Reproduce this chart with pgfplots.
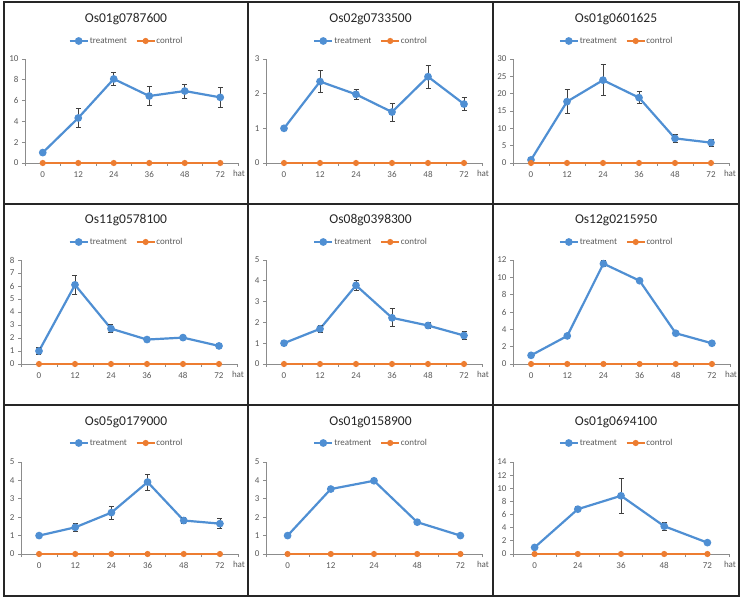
\documentclass[border=0pt]{standalone}
\usepackage{pgfplots}
\pgfplotsset{compat=1.18}
\usepackage{pgfplotstable}
\usepackage{fontspec}
\setmainfont{Carlito}
\definecolor{tblue}{HTML}{4F8FD3}
\definecolor{corange}{HTML}{ED7D31}
\definecolor{axgray}{HTML}{8C8C8C}
\definecolor{lblgray}{HTML}{595959}
\definecolor{errgray}{HTML}{404040}

\pgfplotsset{
  legend image code/.code={\draw[mark repeat=2,mark phase=2,#1] plot coordinates {(0pt,0pt) (9pt,0pt) (18pt,0pt)};},
  panel/.style={
    scale only axis,
    height=104pt,
    axis x line*=bottom, axis y line*=left,
    axis line style={draw=axgray, line width=0.9pt},
    ymin=0,
    xmin=-0.5, xmax=5.5,
    xtick={0,...,5},
    minor xtick={-0.5,0.5,...,5.5},
    major x tick style={draw=none},
    minor x tick style={draw=axgray, line width=0.8pt},
    ytick style={draw=axgray, line width=0.8pt},
    tick align=outside,
    major tick length=3pt, minor tick length=3pt,
    tick label style={font=\fontsize{9}{10}\selectfont, text=lblgray},
    xticklabel style={yshift=-2pt},
    /pgf/number format/assume math mode=true,
    clip=false,
    title style={font=\fontsize{13.5}{15}\selectfont, anchor=center, text=black!85},
    xlabel=hat,
    xlabel style={at={(axis description cs:1,0)}, anchor=center, yshift=-10.5pt, xshift=1pt, font=\fontsize{9}{10}\selectfont, text=lblgray},
    legend columns=2,
    legend style={draw=none, fill=none, font=\fontsize{9}{10}\selectfont, text=lblgray,
      /tikz/every even column/.append style={column sep=8pt}, anchor=center, inner sep=0pt,
      nodes={inner sep=1pt}},
  },
  five/.style={xmin=-0.5, xmax=4.5, xtick={0,...,4}, minor xtick={-0.5,0.5,...,4.5}},
  rowthree/.style={height=92pt},
  cellc/.style 2 args={title style={at={(axis description cs:#1,1)}, yshift=34pt},
    legend style={at={(axis description cs:#1,1)}, yshift=#2}},
  treat/.style={tblue, line width=2.2pt, mark=*, mark size=2.7pt, mark options={solid}},
  ctrl/.style={corange, line width=1.5pt, mark=*, mark size=2.3pt, mark options={solid}},
  ebars/.style={error bars/.cd, y dir=both, y explicit,
    error bar style={errgray, line width=0.8pt},
    error mark options={errgray, mark size=2.5pt, line width=0.8pt, rotate=90}},
}

\pgfplotstableread{
x y e
0 1.00 0.07
1 4.33 0.95
2 8.08 0.60
3 6.44 0.90
4 6.92 0.68
5 6.31 0.96
}\dataA
\pgfplotstableread{
x y e
0 1.00 0.06
1 2.35 0.31
2 1.98 0.14
3 1.47 0.26
4 2.49 0.33
5 1.70 0.18
}\dataB
\pgfplotstableread{
x y e
0 0.90 0.10
1 17.7 3.40
2 23.9 4.40
3 18.85 1.80
4 7.10 1.15
5 5.87 1.00
}\dataC
\pgfplotstableread{
x y e
0 1.00 0.28
1 6.09 0.75
2 2.72 0.29
3 1.88 0.05
4 2.03 0.08
5 1.39 0.10
}\dataD
\pgfplotstableread{
x y e
0 1.00 0.08
1 1.69 0.16
2 3.78 0.22
3 2.22 0.43
4 1.85 0.14
5 1.37 0.19
}\dataE
\pgfplotstableread{
x y e
0 1.00 0.05
1 3.24 0.10
2 11.58 0.35
3 9.61 0.10
4 3.55 0.22
5 2.39 0.10
}\dataF
\pgfplotstableread{
x y e
0 1.00 0.05
1 1.45 0.20
2 2.25 0.36
3 3.91 0.44
4 1.82 0.17
5 1.65 0.26
}\dataG
\pgfplotstableread{
x y e
0 1.00 0.00
1 3.53 0.00
2 3.98 0.00
3 1.73 0.00
4 1.00 0.00
}\dataH
\pgfplotstableread{
x y e
0 1.00 0.05
1 6.82 0.40
2 8.86 2.70
3 4.23 0.58
4 1.73 0.28
}\dataI

\begin{document}
\begin{tikzpicture}
\useasboundingbox (0,0) rectangle (743pt,599pt);
% panel borders
\draw[black!85, line width=1.1pt] (4pt,597pt) rectangle (739pt,3pt);
\draw[black!85, line width=1.1pt] (248pt,597pt) -- (248pt,3pt);
\draw[black!85, line width=1.1pt] (493pt,597pt) -- (493pt,3pt);
\draw[black!85, line width=1.1pt] (4pt,395pt) -- (739pt,395pt);
\draw[black!85, line width=1.1pt] (4pt,194pt) -- (739pt,194pt);

% Row 1
\begin{axis}[panel, at={(25pt,436pt)}, anchor=south west, width=213pt,
  title={Os01g0787600}, cellc={0.474}{18pt},
  ymax=10, ytick={0,2,...,10}, xticklabels={0,12,24,36,48,72}]
\addplot[treat, ebars] table[x=x,y=y,y error=e]{\dataA};
\addplot[ctrl] coordinates {(0,0)(1,0)(2,0)(3,0)(4,0)(5,0)};
\legend{treatment,control}
\end{axis}

\begin{axis}[panel, at={(266pt,436pt)}, anchor=south west, width=216pt,
  title={Os02g0733500}, cellc={0.484}{18pt},
  ymax=3, ytick={0,1,2,3}, xticklabels={0,12,24,36,48,72}]
\addplot[treat, ebars] table[x=x,y=y,y error=e]{\dataB};
\addplot[ctrl] coordinates {(0,0)(1,0)(2,0)(3,0)(4,0)(5,0)};
\legend{treatment,control}
\end{axis}

\begin{axis}[panel, at={(513pt,436pt)}, anchor=south west, width=216pt,
  title={Os01g0601625}, cellc={0.477}{18pt},
  ymax=30, ytick={0,5,...,30}, xticklabels={0,12,24,36,48,72}]
\addplot[treat, ebars] table[x=x,y=y,y error=e]{\dataC};
\addplot[ctrl] coordinates {(0,0)(1,0)(2,0)(3,0)(4,0)(5,0)};
\legend{treatment,control}
\end{axis}

% Row 2
\begin{axis}[panel, at={(21pt,235pt)}, anchor=south west, width=216pt,
  title={Os11g0578100}, cellc={0.486}{18pt},
  ymax=8, ytick={0,1,...,8}, xticklabels={0,12,24,36,48,72}]
\addplot[treat, ebars] table[x=x,y=y,y error=e]{\dataD};
\addplot[ctrl] coordinates {(0,0)(1,0)(2,0)(3,0)(4,0)(5,0)};
\legend{treatment,control}
\end{axis}

\begin{axis}[panel, at={(266pt,235pt)}, anchor=south west, width=216pt,
  title={Os08g0398300}, cellc={0.484}{18pt},
  ymax=5, ytick={0,1,...,5}, xticklabels={0,12,24,36,48,72}]
\addplot[treat, ebars] table[x=x,y=y,y error=e]{\dataE};
\addplot[ctrl] coordinates {(0,0)(1,0)(2,0)(3,0)(4,0)(5,0)};
\legend{treatment,control}
\end{axis}

\begin{axis}[panel, at={(513pt,235pt)}, anchor=south west, width=217pt,
  title={Os12g0215950}, cellc={0.475}{18pt},
  ymax=12, ytick={0,2,...,12}, xticklabels={0,12,24,36,48,72}]
\addplot[treat, ebars] table[x=x,y=y,y error=e]{\dataF};
\addplot[ctrl] coordinates {(0,0)(1,0)(2,0)(3,0)(4,0)(5,0)};
\legend{treatment,control}
\end{axis}

% Row 3
\begin{axis}[panel, rowthree, at={(21pt,45pt)}, anchor=south west, width=217pt,
  title={Os05g0179000}, cellc={0.484}{19pt},
  ymax=5, ytick={0,1,...,5}, xticklabels={0,12,24,36,48,72}]
\addplot[treat, ebars] table[x=x,y=y,y error=e]{\dataG};
\addplot[ctrl] coordinates {(0,0)(1,0)(2,0)(3,0)(4,0)(5,0)};
\legend{treatment,control}
\end{axis}

\begin{axis}[panel, rowthree, five, at={(266pt,45pt)}, anchor=south west, width=216pt,
  title={Os01g0158900}, cellc={0.484}{19pt},
  ymax=5, ytick={0,1,...,5}, xticklabels={0,12,24,48,72}]
\addplot[treat] table[x=x,y=y]{\dataH};
\addplot[ctrl] coordinates {(0,0)(1,0)(2,0)(3,0)(4,0)};
\legend{treatment,control}
\end{axis}

\begin{axis}[panel, rowthree, five, at={(513pt,45pt)}, anchor=south west, width=216pt,
  title={Os01g0694100}, cellc={0.477}{19pt},
  ymax=14, ytick={0,2,...,14}, xticklabels={0,24,36,48,72}]
\addplot[treat, ebars] table[x=x,y=y,y error=e]{\dataI};
\addplot[ctrl] coordinates {(0,0)(1,0)(2,0)(3,0)(4,0)};
\legend{treatment,control}
\end{axis}
\end{tikzpicture}
\end{document}
